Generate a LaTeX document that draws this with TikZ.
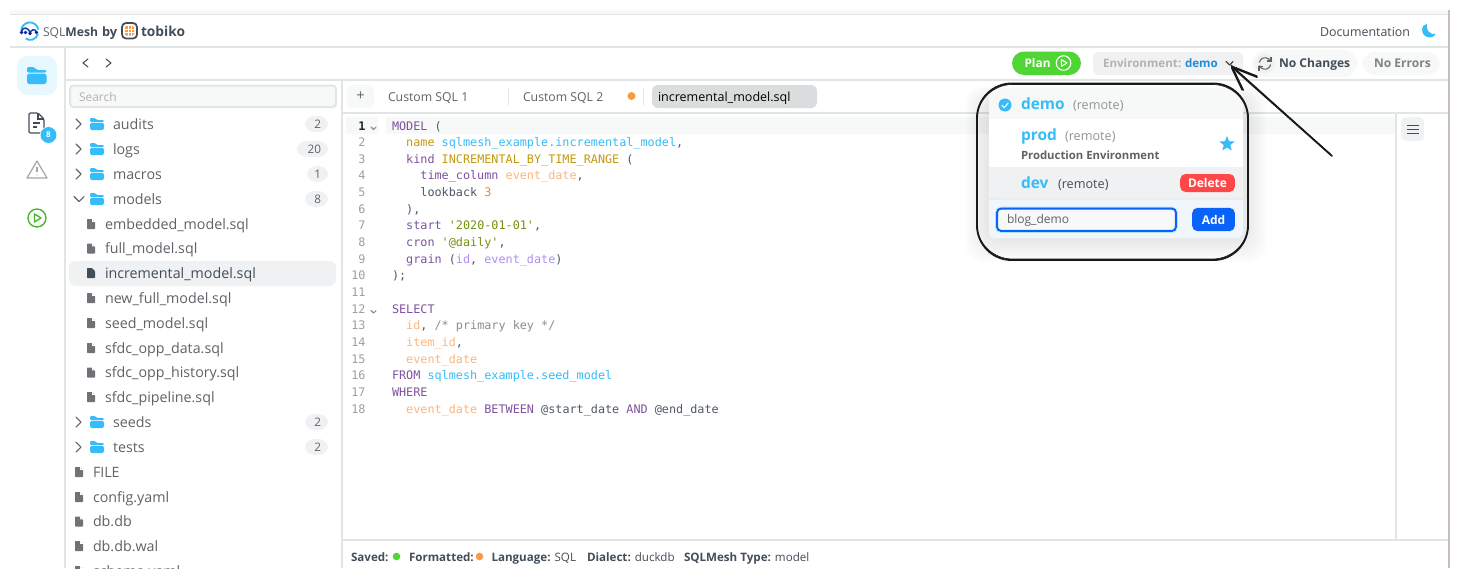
\documentclass[tikz,border=0pt]{standalone}
\usepackage{fontspec}
\setmainfont{Open Sans}
\setmonofont{DejaVu Sans Mono}
\newcommand\tbf[1]{{\bfseries #1}}
\usetikzlibrary{shapes.geometric}
\definecolor{cblue}{HTML}{36BCF8}
\definecolor{cline}{HTML}{E2E5E5}
\definecolor{cgray}{HTML}{5F6367}
\definecolor{cdark}{HTML}{434D58}
\definecolor{cpale}{HTML}{F0F1F3}
\definecolor{cpaler}{HTML}{F7F8F8}
\definecolor{cgreen}{HTML}{4FD635}
\definecolor{corange}{HTML}{FB9A3E}
\definecolor{kw}{HTML}{7F529F}
\definecolor{gold}{HTML}{C49A0C}
\definecolor{peach}{HTML}{FDB67C}
\definecolor{lav}{HTML}{AF8FF3}
\definecolor{strg}{HTML}{73920F}
\definecolor{cmt}{HTML}{8E8E8E}
\definecolor{codetx}{HTML}{4F5864}
\definecolor{num}{HTML}{F5841F}
\definecolor{edgec}{HTML}{C9BCC0}
\definecolor{envblue}{HTML}{1D8FD8}
\definecolor{btnblue}{HTML}{0A63F8}
\definecolor{tabact}{HTML}{D9DDDD}
\definecolor{footbg}{HTML}{F1F6FD}
\newcommand\cK[1]{\textcolor{kw}{#1}}
\newcommand\cG[1]{\textcolor{gold}{#1}}
\newcommand\cP[1]{\textcolor{peach}{#1}}
\newcommand\cB[1]{\textcolor{cblue}{#1}}
\newcommand\cL[1]{\textcolor{lav}{#1}}
\tikzset{
  tx/.style={anchor=base west,inner sep=0pt,outer sep=0pt,font=\fontsize{#1}{#1}\selectfont},
  tm/.style={anchor=base,inner sep=0pt,outer sep=0pt,font=\fontsize{#1}{#1}\selectfont},
  codeln/.style={anchor=base west,inner sep=0pt,outer sep=0pt,text=codetx,font=\ttfamily\fontsize{8.85}{9}\selectfont},
  gutter/.style={anchor=base east,inner sep=0pt,outer sep=0pt,text=cmt!85,font=\ttfamily\fontsize{8.85}{9}\selectfont},
  treetx/.style={tx=10.7,text=cgray},
  rulel/.style={draw=cline,line width=1.1pt},
  chev/.style={draw=#1,line width=0.8pt,line cap=round,line join=round},
  pics/folderic/.style={code={
    \fill[cblue,rounded corners=0.8pt] (-7,-6) -- (-2,-6) -- (0,-4) -- (7,-4) -- (7,-2) -- (-7,-2) -- cycle;
    \fill[cblue,rounded corners=1.2pt] (-7,-1.2) rectangle (7,6);
  }},
  pics/fileic/.style={code={
    \fill[cgray!90,rounded corners=0.5pt] (-4,-5) -- (1,-5) -- (4,-2) -- (4,5) -- (-4,5) -- cycle;
    \fill[white] (1.2,-5) -- (1.2,-2.2) -- (4,-2.2) -- (4,-3.2) -- (2.2,-3.2) -- (2.2,-5) -- cycle;
  }},
}
\begin{document}
\begin{tikzpicture}[x=0.75pt,y=-0.75pt]
\useasboundingbox (0,0) rectangle (1460,579);
\fill[white] (0,0) rectangle (1460,579);
% chrome
\fill[cpaler] (10,10) rectangle (1449,14);
\draw[rulel] (10,14.5) -- (1449,14.5);
\draw[rulel] (10,47) -- (1449,47);
\draw[rulel] (65,47) -- (65,568);
\draw[rulel] (65,80) -- (1449,80);
\draw[rulel] (342,80) -- (342,568);
\draw[rulel] (342,113) -- (1449,113);
\draw[rulel] (1396,113) -- (1396,540);
\draw[rulel] (342,540) -- (1449,540);
\draw[draw=edgec,line width=1.2pt] (1449,10) -- (1449,568);
% logo
\draw[cblue,line width=1.4pt] (21.2,31) arc[start angle=180,end angle=350,radius=8.6];
\draw[cblue,line width=1.4pt] (38,34) arc[start angle=15,end angle=125,radius=8];
\draw[cblue!45!blue!70!black,line width=1.1pt] (21.5,32) .. controls (22,26.5) and (29,26.5) .. (30,33.5);
\draw[cblue!45!blue!70!black,line width=1.1pt] (30,33.5) .. controls (31,29) and (35,28.5) .. (36.5,32);
\foreach \lx/\ly in {21.5/32.5,25.5/32.5,30/33.5,36.5/32.5}{\fill[cblue!35!blue!60!black] (\lx,\ly) circle (1.8);}
\node[tx=9.1,text=cgray] (brandsql) at (43,36) {SQL\tbf{\textcolor{cdark}{Mesh}}};
\node[tx=9.6,text=cdark] (brandby) at (102,36) {\tbf{by}};
\draw[draw=cdark,line width=1.3pt,rounded corners=3pt,fill=white] (122,23) rectangle (137,38.5);
\fill[corange,rounded corners=1pt] (125,26) rectangle (134,35.5);
\foreach \gv in {128,131}{\draw[white,line width=0.4pt] (\gv,26) -- (\gv,35.5);}
\foreach \gv in {29,32.5}{\draw[white,line width=0.4pt] (125,\gv) -- (134,\gv);}
\node[tx=10.3,text=cdark] (brandtob) at (141,36) {\tbf{tobiko}};
\node[tx=9.3,text=cdark] (docs) at (1320,36.5) {Documentation};
\fill[cblue] (1427,24) .. controls (1421,24.5) and (1420,33) .. (1426,36.5) .. controls (1430,38.5) and (1434,37) .. (1435.5,34) .. controls (1430,35) and (1425.5,30) .. (1427,24) -- cycle;
% sidebar
\fill[cblue!12,rounded corners=8pt] (17,56) rectangle (57,95);
\fill[cblue,rounded corners=1pt] (27,67) -- (34,67) -- (37,70) -- (46.5,70) -- (46.5,72.5) -- (27,72.5) -- cycle;
\fill[cblue,rounded corners=1.8pt] (27,73.7) rectangle (46.5,84);
\draw[cdark,line width=0.9pt,line join=round,rounded corners=1pt] (29,113) -- (38,113) -- (44,119) -- (44,133) -- (29,133) -- cycle;
\draw[cdark,line width=0.9pt] (38,113) -- (38,119) -- (44,119);
\draw[cdark,line width=0.9pt] (33,123) -- (40,123) (33,127) -- (37,127);
\node[circle,fill=cblue,draw=white,line width=0.4pt,inner sep=0pt,minimum size=12.5pt,text=white,font=\fontsize{6}{6}\selectfont\bfseries] (filebadge) at (48.5,135) {8};
\draw[black!35,line width=0.9pt,line join=round] (37,161) -- (47,178) -- (27,178) -- cycle;
\draw[black!35,line width=0.9pt] (37,167) -- (37,172);
\fill[black!35] (37,175) circle (0.7);
\draw[cgreen!85!black,line width=1pt] (37,218) circle (9);
\draw[cgreen!85!black,line width=1pt,line join=round] (34.5,214) -- (41,218) -- (34.5,222) -- cycle;
% toolbar
\draw[chev=cdark] (88,59) -- (83,63) -- (88,67);
\draw[chev=cdark] (106,59) -- (111,63) -- (106,67);
\fill[cgreen,rounded corners=9pt] (1012,51.5) rectangle (1081,75);
\node[tx=8.9,text=white] (plan) at (1024.5,67.5) {\tbf{Plan}};
\draw[white,line width=0.8pt] (1063.5,63) circle (7.3);
\draw[white,line width=0.8pt,line join=round] (1061.3,59.6) -- (1067,63) -- (1061.3,66.4) -- cycle;
\fill[cpale,rounded corners=4pt] (1093,52) rectangle (1243,75);
\node[tx=8.7,text=black!30] (env) at (1103,67.5) {\tbf{Environment:}};
\node[tx=8.7,text=envblue] (envdemo) at (1185,67.5) {\tbf{demo}};
\draw[chev=black!80] (1226,61.5) -- (1229.5,65) -- (1233,61.5);
\fill[cpaler,rounded corners=10pt] (1252,50) rectangle (1357,77);
\fill[cpale] (1265,63.5) circle (10);
\draw[cgray,line width=0.8pt] (1259.4,62.5) arc[start angle=190,end angle=340,radius=5.8] (1270.6,64.5) arc[start angle=10,end angle=160,radius=5.8];
\draw[cgray,line width=0.8pt] (1271,57) -- (1271,61) -- (1267,61) (1259,70.5) -- (1259,66.5) -- (1263,66.5);
\node[tx=9.05,text=cdark] (nochg) at (1279,67.5) {\tbf{No Changes}};
\fill[cpaler,rounded corners=10pt] (1362,52) rectangle (1440,75);
\node[tx=9.05,text=cgray!80] (noerr) at (1374,67.5) {\tbf{No Errors}};
% explorer
\draw[draw=cline,line width=1.5pt,fill=cpaler,rounded corners=2.5pt] (70,85.5) rectangle (336,107);
\node[tx=9,text=black!30] (search) at (79,101) {Search};
\fill[cpale,rounded corners=5pt] (69,261) rectangle (336,286);
\begin{scope}
\clip (66,110) rectangle (341,568);
\foreach \nm/\ty/\tlab/\bl/\cnt in {audits/124/audits/305/2,logs/149/logs/297/20,macros/174/macros/307/1,models/199/models/305/8,seeds/422/seeds/305/2,tests/447/tests/305/2}{
  \pic at (97,\ty) {folderic};
  \node[treetx] (t\nm) at (113,\ty+5) {\tlab};
  \fill[cpale,rounded corners=7pt] (\bl,\ty-8) rectangle (328,\ty+8);
  \node[tm=8.8,text=cgray,anchor=base east] (b\nm) at (321,\ty+4.5) {\cnt};
}
\foreach \ty in {124,149,174,422,447}{\draw[chev=cgray] (76,\ty-5) -- (81,\ty) -- (76,\ty+5);}
\draw[chev=cgray] (74,196.5) -- (79,201.5) -- (84,196.5);
\foreach \nm/\ty/\tlab in {a/224/embedded\_model.sql,b/248.5/full\_model.sql,d/298/new\_full\_model.sql,e/323/seed\_model.sql,f/348/sfdc\_opp\_data.sql,g/372.5/sfdc\_opp\_history.sql,h/397/sfdc\_pipeline.sql}{
  \pic at (91,\ty) {fileic};
  \node[treetx] (m\nm) at (105,\ty+5) {\tlab};
}
\fill[cdark,rounded corners=0.5pt] (87,268) -- (92,268) -- (95,271) -- (95,278) -- (87,278) -- cycle;
\node[treetx,text=cdark] (mc) at (105,278) {incremental\_model.sql};
\foreach \nm/\ty/\tlab in {a/472/FILE,b/497/config.yaml,c/521.5/db.db,d/546/db.db.wal,e/571/schema.yaml}{
  \pic at (79,\ty) {fileic};
  \node[treetx] (r\nm) at (93,\ty+5) {\tlab};
}
\end{scope}
% tabs
\fill[cpaler,rounded corners=4pt] (347,85) rectangle (374,108);
\node[tm=11,text=cgray] (plus) at (360.5,100.5) {+};
\node[tx=9.2,text=cgray] (tab1) at (388,101) {Custom SQL 1};
\draw[cline,line width=0.7pt] (508,88) -- (508,105);
\node[tx=9.2,text=cgray] (tab2) at (523,101) {Custom SQL 2};
\fill[corange] (631.5,96) circle (4);
\draw[cline,line width=0.7pt] (643,88) -- (643,105);
\fill[tabact,rounded corners=4.5pt] (652,85) rectangle (817,108);
\node[tx=9.4,text=black] (tab3) at (658,101) {incremental\_model.sql};
% code
\fill[cpaler] (386,117) rectangle (1395,134);
\fill[cpaler] (346,117) rectangle (378,134);
\foreach \n in {2,...,18}{\node[gutter] (g\n) at (365.5,126+\n*16.65-16.65+4) {\n};}
\node[gutter,text=black!85] (g1) at (365.5,130) {\textbf{1}};
\draw[chev=cmt] (371,127) -- (373.5,129.5) -- (376,127);
\draw[chev=cmt] (371,310.5) -- (373.5,313) -- (376,310.5);
\node[codeln] (c1) at (392,130) {\cK{MODEL} (};
\node[codeln] (c2) at (392,146.65) {\ \ \cG{name} \cB{sqlmesh\_example.incremental\_model},};
\node[codeln] (c3) at (392,163.3) {\ \ \cK{kind} \cG{INCREMENTAL\_BY\_TIME\_RANGE} (};
\node[codeln] (c4) at (392,179.95) {\ \ \ \ \cK{time\_column} \cP{event\_date},};
\node[codeln] (c5) at (392,196.6) {\ \ \ \ lookback \textcolor{num}{3}};
\node[codeln] (c6) at (392,213.25) {\ \ ),};
\node[codeln] (c7) at (392,229.9) {\ \ \cK{start} \textcolor{strg}{'2020-01-01'},};
\node[codeln] (c8) at (392,246.55) {\ \ \cK{cron} \textcolor{strg}{'@daily'},};
\node[codeln] (c9) at (392,263.2) {\ \ \cK{grain} (\cL{id}, \cL{event\_date})};
\node[codeln] (c10) at (392,279.85) {);};
\node[codeln] (c12) at (392,313.15) {\cK{SELECT}};
\node[codeln] (c13) at (392,329.8) {\ \ \cP{id}, \textcolor{cmt}{/* primary key */}};
\node[codeln] (c14) at (392,346.45) {\ \ \cP{item\_id},};
\node[codeln] (c15) at (392,363.1) {\ \ \cP{event\_date}};
\node[codeln] (c16) at (392,379.75) {\cK{FROM} \cB{sqlmesh\_example.seed\_model}};
\node[codeln] (c17) at (392,396.4) {\cK{WHERE}};
\node[codeln] (c18) at (392,413.05) {\ \ \cP{event\_date} \cK{BETWEEN} @start\_date \cK{AND} @end\_date};
% right button
\fill[cpale,rounded corners=4pt] (1401,117) rectangle (1424,141);
\draw[cdark,line width=0.7pt] (1407,125) -- (1419,125) (1407,129) -- (1419,129) (1407,133) -- (1419,133);
% status
\node[tx=8.7,text=cdark] (s1) at (351,561.5) {\tbf{Saved:}};
\fill[cgreen] (396.5,556.5) circle (3.8);
\node[tx=8.7,text=cdark] (s2) at (409,561.5) {\tbf{Formatted:}};
\fill[corange] (479.5,556.5) circle (3.8);
\node[tx=8.7,text=cdark] (s3) at (491.5,561.5) {\tbf{Language:} SQL};
\node[tx=8.7,text=cdark] (s4) at (587,561.5) {\tbf{Dialect:} duckdb};
\node[tx=8.7,text=cdark] (s5) at (684,561.5) {\tbf{SQLMesh Type:} model};
% shadow
\foreach \spr in {24,21,...,0}{
  \fill[black,opacity=0.012,rounded corners=14pt] (989-\spr,96-\spr*0.4) rectangle (1243+\spr,238+\spr);
}
% dropdown
\fill[white,rounded corners=5pt] (989,88) rectangle (1243,238);
\fill[cpaler] (989,88) rectangle (1243,119);
\fill[cpale] (989,167) rectangle (1243,199);
\draw[black!8,line width=0.8pt] (989,199) -- (1243,199);
\fill[footbg,rounded corners=5pt] (989,199.5) rectangle (1243,238);
\fill[footbg] (989,199.5) rectangle (1243,215);
\fill[cblue] (1005,105) circle (6.5);
\draw[white,line width=0.8pt,line cap=round,line join=round] (1002,105.3) -- (1004.3,107.6) -- (1008.2,103);
\node[tx=11.6,text=cblue] (ddemo) at (1021,109) {\tbf{demo}};
\node[tx=9.5,text=black!42] (dr1) at (1073,109) {(remote)};
\node[tx=11.6,text=cblue] (dprod) at (1021,140) {\tbf{prod}};
\node[tx=9.5,text=black!42] (dr2) at (1065,140) {(remote)};
\node[tx=8.5,text=cgray] (dprodsub) at (1021,159) {\tbf{Production Environment}};
\node[star,star points=5,star point ratio=2.3,fill=cblue,inner sep=0pt,minimum size=12pt] (dstar) at (1227,144) {};
\node[tx=11.6,text=cblue] (ddev) at (1021,188.5) {\tbf{dev}};
\node[tx=9.5,text=cdark] (dr3) at (1058,188.5) {(remote)};
\node[anchor=center,fill=red!72!white,rounded corners=4pt,minimum width=41pt,minimum height=13.5pt,inner sep=0pt,text=white,font=\fontsize{9}{9}\selectfont\bfseries] (ddel) at (1207.5,183) {Delete};
\draw[draw=btnblue,line width=1.6pt,fill=cpaler,rounded corners=3pt] (997,208.5) rectangle (1176,231);
\draw[draw=cblue!40,line width=0.5pt,rounded corners=4pt] (995.5,207) rectangle (1177.5,232.5);
\node[tx=9,text=cgray] (dinput) at (1007,223.5) {blog\_demo};
\node[anchor=center,fill=btnblue,rounded corners=4pt,minimum width=32pt,minimum height=17.5pt,inner sep=0pt,text=white,font=\fontsize{9}{9}\selectfont\bfseries] (dadd) at (1213.5,219.5) {Add};
% sketch box
\draw[black!90,line width=1.4pt,rounded corners=26pt] (977,83.5) rectangle (1248,260);
\draw[black!90,line width=0.5pt,rounded corners=27pt] (976.5,84.5) rectangle (1248.5,259);
% arrow
\coordinate (arrowtail) at (1332,156);
\coordinate (arrowtip) at (1232,67);
\coordinate (barba) at (1257,77);
\coordinate (barbb) at (1243,90);
\draw[black!90,line width=1.3pt,line cap=round] (arrowtail) -- (arrowtip);
\draw[black!90,line width=1pt,line cap=round] ([xshift=-1.2pt,yshift=1.2pt]arrowtail) -- ([xshift=-0.6pt,yshift=1.2pt]arrowtip);
\draw[black!90,line width=1.4pt,line cap=round,line join=round] (barba) -- (arrowtip) -- (barbb);
\draw[black!90,line width=0.7pt,line cap=round] ([yshift=0.8pt]barba) -- ([xshift=1pt,yshift=0.3pt]arrowtip);
\draw[black!90,line width=0.7pt,line cap=round] ([xshift=-0.8pt]barbb) -- ([xshift=-0.3pt,yshift=-1pt]arrowtip);
\end{tikzpicture}
\end{document}
